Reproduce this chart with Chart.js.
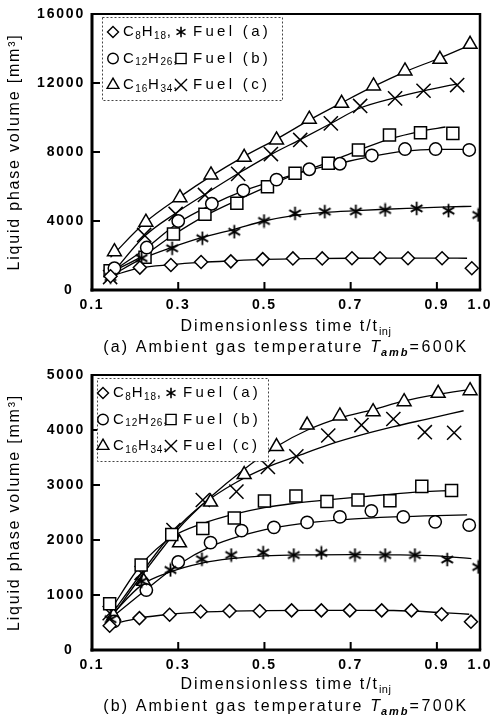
<!DOCTYPE html>
<html>
<head>
<meta charset="utf-8">
<title>Liquid phase volume</title>
<script src="https://cdn.jsdelivr.net/npm/chart.js@4.4.1/dist/chart.umd.min.js"></script>
<style>
  body { margin: 0; background: #fff; }
  canvas { display: block; }
</style>
</head>
<body>
<canvas id="chart600" width="492" height="360"></canvas>
<canvas id="chart700" width="492" height="360"></canvas>
<script>
var xTicks = [0.1, 0.3, 0.5, 0.7, 0.9, 1.0];
var yTicks600 = [0, 4000, 8000, 12000, 16000];
var yTicks700 = [0, 1000, 2000, 3000, 4000, 5000];
var pureNames = ['C8H18', 'C12H26', 'C16H34'];
var fuelNames = ['Fuel (a)', 'Fuel (b)', 'Fuel (c)'];

// [t/tinj, volume mm3] -- Tamb = 600 K
var c8_600 = [[0.143, 800], [0.211, 1300], [0.283, 1450], [0.353, 1620], [0.422, 1660], [0.496, 1790], [0.566, 1830], [0.634, 1830], [0.703, 1840], [0.768, 1840], [0.833, 1840], [0.912, 1840], [0.981, 1260]];
var fa_600 = [[0.143, 750], [0.215, 1850], [0.286, 2420], [0.356, 3000], [0.43, 3380], [0.499, 4000], [0.571, 4440], [0.64, 4540], [0.712, 4560], [0.78, 4640], [0.853, 4730], [0.927, 4600], [0.996, 4350]];
var c12_600 = [[0.152, 1260], [0.227, 2460], [0.30, 4000], [0.378, 5000], [0.451, 5770], [0.528, 6400], [0.604, 7000], [0.675, 7320], [0.749, 7800], [0.826, 8170], [0.897, 8170], [0.975, 8120]];
var fb_600 = [[0.142, 1120], [0.223, 1900], [0.289, 3250], [0.362, 4390], [0.436, 5030], [0.507, 5990], [0.571, 6770], [0.648, 7350], [0.718, 8120], [0.79, 8980], [0.862, 9120], [0.937, 9080]];
var c16_600 = [[0.152, 2220], [0.225, 3930], [0.304, 5350], [0.376, 6670], [0.453, 7690], [0.528, 8700], [0.604, 9900], [0.679, 10820], [0.753, 11830], [0.826, 12700], [0.907, 13370], [0.977, 14240]];
var fc_600 = [[0.142, 750], [0.221, 3190], [0.294, 4410], [0.362, 5510], [0.439, 6730], [0.515, 7880], [0.583, 8700], [0.654, 9660], [0.722, 10670], [0.803, 11110], [0.869, 11550], [0.947, 11880]];

// fitted curves, 600 K
var c8_600_fit = [[0.143, 800], [0.211, 1280], [0.283, 1470], [0.353, 1600], [0.422, 1690], [0.496, 1770], [0.6, 1820], [0.7, 1840], [0.8, 1845], [0.9, 1845], [0.97, 1840]];
var fa_600_fit = [[0.143, 800], [0.215, 1800], [0.286, 2480], [0.356, 3050], [0.43, 3520], [0.499, 4000], [0.571, 4330], [0.64, 4500], [0.712, 4600], [0.78, 4680], [0.853, 4750], [0.927, 4820], [0.98, 4850]];
var c12_600_fit = [[0.143, 1000], [0.227, 2450], [0.30, 3900], [0.378, 4950], [0.451, 5750], [0.528, 6380], [0.604, 6950], [0.675, 7350], [0.749, 7750], [0.826, 8050], [0.897, 8150], [0.975, 8150]];
var fb_600_fit = [[0.142, 1000], [0.223, 2050], [0.289, 3200], [0.362, 4300], [0.436, 5200], [0.507, 6000], [0.571, 6700], [0.648, 7400], [0.718, 8100], [0.79, 8750], [0.862, 9200], [0.92, 9450]];
var c16_600_fit = [[0.143, 1900], [0.225, 3950], [0.304, 5400], [0.376, 6600], [0.453, 7750], [0.528, 8750], [0.604, 9850], [0.679, 10850], [0.753, 11800], [0.826, 12650], [0.907, 13450], [0.977, 14200]];
var fc_600_fit = [[0.142, 800], [0.221, 3100], [0.294, 4450], [0.362, 5550], [0.439, 6750], [0.515, 7850], [0.583, 8720], [0.654, 9650], [0.722, 10550], [0.803, 11150], [0.869, 11550], [0.947, 11950]];

// [t/tinj, volume mm3] -- Tamb = 700 K
var c8_700 = [[0.141, 440], [0.21, 580], [0.28, 640], [0.352, 700], [0.419, 710], [0.489, 710], [0.563, 720], [0.632, 720], [0.698, 720], [0.772, 720], [0.841, 720], [0.911, 650], [0.979, 515]];
var fa_700 = [[0.143, 560], [0.215, 1250], [0.282, 1455], [0.355, 1650], [0.423, 1727], [0.497, 1770], [0.568, 1727], [0.632, 1765], [0.71, 1727], [0.78, 1727], [0.849, 1727], [0.924, 1645], [0.996, 1510]];
var c12_700 = [[0.151, 520], [0.226, 1090], [0.3, 1600], [0.375, 1952], [0.447, 2170], [0.522, 2230], [0.599, 2320], [0.675, 2420], [0.748, 2530], [0.822, 2420], [0.896, 2330], [0.975, 2270]];
var fb_700 = [[0.141, 840], [0.214, 1545], [0.285, 2100], [0.357, 2210], [0.43, 2400], [0.5, 2710], [0.573, 2800], [0.645, 2700], [0.717, 2727], [0.791, 2715], [0.865, 2975], [0.934, 2900]];
var c16_700 = [[0.15, 620], [0.22, 1250], [0.303, 1950], [0.375, 2690], [0.453, 3190], [0.528, 3700], [0.599, 4090], [0.675, 4255], [0.752, 4333], [0.824, 4515], [0.903, 4667], [0.977, 4715]];
var fc_700 = [[0.141, 670], [0.215, 1400], [0.289, 2180], [0.357, 2727], [0.435, 2880], [0.508, 3330], [0.574, 3520], [0.648, 3900], [0.725, 4090], [0.799, 4200], [0.872, 3960], [0.94, 3950]];

// fitted curves, 700 K
var c8_700_fit = [[0.141, 460], [0.21, 580], [0.28, 650], [0.352, 690], [0.419, 705], [0.5, 715], [0.6, 720], [0.7, 720], [0.8, 718], [0.911, 680], [0.975, 650]];
var fa_700_fit = [[0.141, 600], [0.215, 1180], [0.282, 1420], [0.355, 1580], [0.423, 1660], [0.5, 1710], [0.6, 1730], [0.7, 1735], [0.8, 1730], [0.9, 1710], [0.98, 1660]];
var c12_700_fit = [[0.141, 560], [0.226, 1100], [0.3, 1550], [0.375, 1880], [0.447, 2080], [0.522, 2220], [0.6, 2310], [0.7, 2380], [0.8, 2420], [0.9, 2445], [0.97, 2455]];
var fb_700_fit = [[0.141, 700], [0.214, 1550], [0.285, 2050], [0.357, 2300], [0.43, 2470], [0.5, 2590], [0.573, 2670], [0.645, 2730], [0.717, 2780], [0.791, 2830], [0.865, 2880], [0.934, 2900]];
var c16_700_fit = [[0.141, 550], [0.22, 1400], [0.3, 2200], [0.375, 2780], [0.45, 3270], [0.528, 3700], [0.6, 4000], [0.675, 4220], [0.752, 4370], [0.824, 4530], [0.903, 4650], [0.98, 4740]];
var fc_700_fit = [[0.141, 600], [0.215, 1400], [0.289, 2150], [0.357, 2650], [0.435, 3050], [0.508, 3330], [0.574, 3520], [0.648, 3730], [0.725, 3910], [0.8, 4060], [0.872, 4190], [0.962, 4350]];

var FONT = '"Liberation Sans", Arial, sans-serif';
Chart.defaults.font.family = FONT;
Chart.defaults.color = '#000';
var textSpacing = '1.8px';

// six-armed asterisk used for Fuel (a)
function asteriskImage(size, lw) {
	var c = document.createElement('canvas');
	c.width = c.height = size;
	var g = c.getContext('2d');
	var m = size / 2, r = size / 2 - 0.8;
	g.strokeStyle = '#000';
	g.lineWidth = lw;
	g.beginPath();
	for (var k = 0; k < 3; k++) {
		var ang = Math.PI / 2 + k * Math.PI / 3;
		g.moveTo(m - Math.cos(ang) * r, m - Math.sin(ang) * r);
		g.lineTo(m + Math.cos(ang) * r, m + Math.sin(ang) * r);
	}
	g.stroke();
	return c;
}
var asterisk = asteriskImage(15, 1.8);
var asteriskSmall = asteriskImage(12, 1.6);

// order: C8H18, Fuel (a), C12H26, Fuel (b), C16H34, Fuel (c)
var markerStyles = [
	{pointStyle: 'rectRot', radius: 6.5},
	{pointStyle: asterisk, radius: 7},
	{pointStyle: 'circle', radius: 6.2},
	{pointStyle: 'rect', radius: 8.5},
	{pointStyle: 'triangle', radius: 8},
	{pointStyle: 'crossRot', radius: 10}
];

function line(ctx, x1, y1, x2, y2, w) {
	ctx.lineWidth = w;
	ctx.beginPath();
	ctx.moveTo(x1, y1);
	ctx.lineTo(x2, y2);
	ctx.stroke();
}

// draws text pieces one after another (for subscripts / italics)
function richText(ctx, parts, x, y, align) {
	var total = 0;
	parts.forEach(function (p) {
		ctx.font = p.font;
		ctx.letterSpacing = p.ls || '0px';
		p.w = ctx.measureText(p.t).width;
		total += p.w;
	});
	var cx = align === 'center' ? x - total / 2 : x;
	ctx.textAlign = 'left';
	ctx.textBaseline = 'middle';
	parts.forEach(function (p) {
		ctx.font = p.font;
		ctx.letterSpacing = p.ls || '0px';
		ctx.fillText(p.t, cx, y + (p.dy || 0));
		cx += p.w;
	});
}

function chemParts(name) {
	return name.match(/\d+|\D+/g).map(function (s) {
		return /\d/.test(s)
			? {t: s, font: '10px ' + FONT, ls: '0.8px', dy: 4}
			: {t: s, font: '15px ' + FONT, ls: '1.5px'};
	});
}

function legendSymbol(ctx, st, x, y) {
	ctx.fillStyle = '#fff';
	ctx.strokeStyle = '#000';
	ctx.lineWidth = 1.4;
	var style = st.pointStyle === asterisk ? asteriskSmall : st.pointStyle;
	Chart.helpers.drawPoint(ctx, {pointStyle: style, radius: st.radius * 0.85, borderWidth: 1.4, rotation: 0}, x, y);
}

function drawLegend(ctx, a, o) {
	var left = a.left + o.legendInset, top = a.top + 3, w = o.legendWidth, h = 83;
	ctx.save();
	ctx.fillStyle = '#fff';
	ctx.fillRect(left, top, w, h);
	ctx.setLineDash([2, 2]);
	ctx.lineWidth = 1;
	ctx.strokeStyle = '#444';
	ctx.strokeRect(left + 0.5, top + 0.5, w, h);
	ctx.setLineDash([]);
	var rowY = [15, 41.5, 68];
	for (var r = 0; r < 3; r++) {
		var y = top + rowY[r], x0 = left + o.legendPad;
		legendSymbol(ctx, markerStyles[2 * r], x0, y);
		ctx.fillStyle = '#000';
		richText(ctx, chemParts(pureNames[r]).concat([{t: ',', font: '15px ' + FONT}]), x0 + 10, y, 'left');
		legendSymbol(ctx, markerStyles[2 * r + 1], x0 + 68, y);
		ctx.fillStyle = '#000';
		richText(ctx, [{t: fuelNames[r], font: '15px ' + FONT, ls: '3.3px'}], x0 + 80, y, 'left');
	}
	ctx.restore();
}

var framePlugin = {
	id: 'frame',
	beforeUpdate: function (chart) { chart.ctx.letterSpacing = textSpacing; },
	beforeDraw: function (chart) { chart.ctx.letterSpacing = textSpacing; },
	afterDraw: function (chart, args, o) {
		var ctx = chart.ctx, a = chart.chartArea, xs = chart.scales.x, ys = chart.scales.y;
		ctx.save();
		ctx.strokeStyle = '#000';
		// inward tick marks
		ctx.lineWidth = 2;
		ctx.beginPath();
		xTicks.forEach(function (v) {
			if (v <= xs.min || v >= xs.max) return;
			var px = xs.getPixelForValue(v);
			ctx.moveTo(px, a.bottom);
			ctx.lineTo(px, a.bottom - 8);
		});
		ys.ticks.forEach(function (t) {
			if (t.value <= ys.min || t.value >= ys.max) return;
			var py = ys.getPixelForValue(t.value);
			ctx.moveTo(a.left, py);
			ctx.lineTo(a.left + 8, py);
		});
		ctx.stroke();
		// plot box, left and bottom heavier
		line(ctx, a.left, a.top, a.right, a.top, 2);
		line(ctx, a.right, a.top - 1, a.right, a.bottom, 2.5);
		line(ctx, a.left, a.top - 1, a.left, a.bottom + 1.5, 3);
		line(ctx, a.left - 1.5, a.bottom, a.right + 1.2, a.bottom, 3);

		drawLegend(ctx, a, o);

		var cx = (a.left + a.right) / 2;
		ctx.fillStyle = '#000';
		richText(ctx, [
			{t: 'Dimensionless time t/t', font: '16px ' + FONT, ls: '1.9px'},
			{t: 'inj', font: '11px ' + FONT, ls: '0.5px', dy: 5}
		], cx, a.bottom + o.titleDy, 'center');
		richText(ctx, [
			{t: o.tag + ' Ambient gas temperature ', font: '16px ' + FONT, ls: '2.1px'},
			{t: 'T', font: 'italic 16px ' + FONT, ls: '1px'},
			{t: 'amb', font: 'italic bold 11px ' + FONT, ls: '2px', dy: 5},
			{t: '=' + o.temp, font: '16px ' + FONT, ls: '2.5px'}
		], cx, a.bottom + o.captionDy, 'center');
		ctx.restore();
	}
};

function drawPanel(id, markers, fits, yTicks, o) {
	var datasets = [];
	markers.forEach(function (pts, i) {
		datasets.push({
			data: pts.map(function (p) { return {x: p[0], y: p[1]}; }),
			showLine: false,
			pointStyle: markerStyles[i].pointStyle,
			pointRadius: markerStyles[i].radius,
			pointHoverRadius: markerStyles[i].radius,
			pointBorderColor: '#000',
			pointBackgroundColor: '#fff',
			pointBorderWidth: 1.5,
			order: 0
		});
	});
	fits.forEach(function (pts) {
		datasets.push({
			data: pts.map(function (p) { return {x: p[0], y: p[1]}; }),
			showLine: true,
			pointRadius: 0,
			borderColor: '#000',
			borderWidth: 1.3,
			cubicInterpolationMode: 'monotone',
			order: 1
		});
	});

	return new Chart(document.getElementById(id), {
		type: 'scatter',
		data: {datasets: datasets},
		plugins: [framePlugin],
		options: {
			responsive: false,
			animation: false,
			devicePixelRatio: 1,
			layout: {padding: {left: 0, right: 12, top: o.top, bottom: 0}},
			plugins: {
				legend: {display: false},
				tooltip: {enabled: false},
				frame: o
			},
			scales: {
				x: {
					type: 'linear', min: 0.1, max: 1.0,
					afterBuildTicks: function (s) { s.ticks = xTicks.map(function (v) { return {value: v}; }); },
					afterFit: function (s) {
						s.height = 70;
						// keep the end labels from pulling the plot edges in
						s.paddingLeft = 0;
						s.paddingRight = 0;
					},
					grid: {display: false, drawTicks: false},
					border: {display: false},
					ticks: {
						autoSkip: false, maxRotation: 0, padding: 7,
						font: {size: 14, weight: 'bold'},
						callback: function (v) { return v.toFixed(1); }
					}
				},
				y: {
					min: yTicks[0], max: yTicks[yTicks.length - 1],
					afterBuildTicks: function (s) { s.ticks = yTicks.map(function (v) { return {value: v}; }); },
					afterFit: function (s) {
						s.width = 92;
						s.paddingTop = 0;
						s.paddingBottom = 0;
					},
					grid: {display: false, drawTicks: false},
					border: {display: false},
					ticks: {
						padding: 7,
						font: {size: 14, weight: 'bold'},
						// the zero label sits a little left of the others
						callback: function (v) { return v === 0 ? '0  ' : String(v); }
					},
					title: {
						display: true,
						text: 'Liquid phase volume [mm³]',
						font: {size: 16},
						padding: {top: 5, bottom: 0}
					}
				}
			}
		}
	});
}

drawPanel('chart600',
	[c8_600, fa_600, c12_600, fb_600, c16_600, fc_600],
	[c8_600_fit, fa_600_fit, c12_600_fit, fb_600_fit, c16_600_fit, fc_600_fit],
	yTicks600,
	{top: 14, tag: '(a)', temp: '600K', legendInset: 10, legendPad: 11, legendWidth: 180, titleDy: 37, captionDy: 58});

drawPanel('chart700',
	[c8_700, fa_700, c12_700, fb_700, c16_700, fc_700],
	[c8_700_fit, fa_700_fit, c12_700_fit, fb_700_fit, c16_700_fit, fc_700_fit],
	yTicks700,
	{top: 15, tag: '(b)', temp: '700K', legendInset: 5, legendPad: 6, legendWidth: 171, titleDy: 35, captionDy: 57});
</script>
</body>
</html>
